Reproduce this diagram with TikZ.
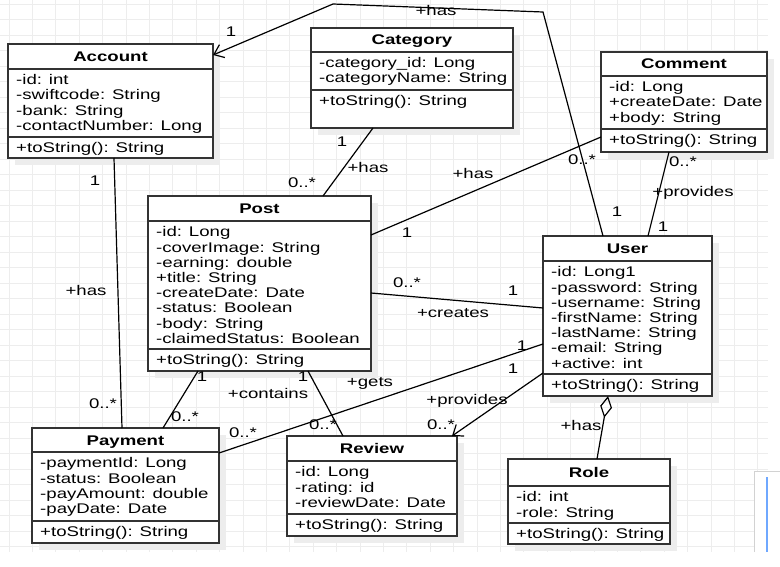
\documentclass[tikz,border=0pt]{standalone}
\usepackage{fontspec}
\setmainfont{Liberation Sans}[FakeStretch=1.33]
\usetikzlibrary{arrows.meta}
\definecolor{gridc}{HTML}{EDEDED}
\definecolor{shadowc}{HTML}{EDEDED}
\definecolor{boxc}{HTML}{333333}
\definecolor{uiblue}{HTML}{6FA8FF}
\tikzset{
  umlbox/.style={draw=boxc, line width=1.6pt, fill=white, inner sep=0pt, outer sep=0pt, anchor=north west},
  divline/.style={draw=boxc, line width=1.6pt},
  titletext/.style={font=\fontsize{14}{15.2}\selectfont\bfseries, anchor=base, inner sep=0pt},
  membertext/.style={font=\fontsize{14}{15.2}\selectfont, align=left, anchor=north west, inner sep=0pt},
  lbl/.style={font=\fontsize{14}{15}\selectfont, inner sep=0pt},
  conn/.style={draw=black, line width=1.2pt},
  openarrow/.style={-{Straight Barb[length=9pt,width=14pt]}},
  gridline/.style={draw=gridc, line width=0.8pt},
}
\newcommand{\umlclass}[9]{%
  \fill[shadowc] (#2+7,#3+7) rectangle (#4+7,#5+7);
  \node[umlbox, minimum width={(#4-#2)*1pt}, minimum height={(#5-#3)*1pt}] (#1) at (#2,#3) {};
  \draw[divline] (#2,#6) -- (#4,#6);
  \draw[divline] (#2,#7) -- (#4,#7);
  \node[titletext] (#1-title) at ({(#2+#4)/2},{(#3+#6)/2+5}) {#8};
  \node[membertext] (#1-attrs) at (#2+8,#6+5.3) {\rule{0pt}{10.3pt}#9};
  \node[membertext] (#1-ops) at (#2+8,#7+5.3) {\rule{0pt}{10.3pt}+toString(): String};
}
\begin{document}
\begin{tikzpicture}[x=1pt,y=-1pt]
\useasboundingbox (0,0) rectangle (780,567);
\fill[white] (0,0) rectangle (780,567);
% grid
\begin{scope}
  \clip (0,0) rectangle (768,552);
  \foreach \i in {0,...,33} \draw[gridline] ({9+23.4*\i},0) -- ({9+23.4*\i},552);
  \foreach \j in {0,...,36} \draw[gridline] (0,{4+15.5*\j}) -- (768,{4+15.5*\j});
\end{scope}
% UI artifact bottom right
\fill[white] (754,471) rectangle (780,552);
\draw[gray!35, line width=1pt] (754,552) -- (754,471) -- (780,471);
\draw[uiblue, line width=1.5pt] (767,477) -- (767,552);

% classes
\umlclass{account}{8}{44}{213}{158}{69}{137}{Account}{-id: int\\-swiftcode: String\\-bank: String\\-contactNumber: Long}
\umlclass{category}{311}{28}{513}{128}{52}{90}{Category}{-category\_id: Long\\-categoryName: String}
\umlclass{comment}{601}{52}{767}{152}{76}{129}{Comment}{-id: Long\\+createDate: Date\\+body: String}
\umlclass{post}{148}{196}{371}{371}{221}{349}{Post}{-id: Long\\-coverImage: String\\-earning: double\\+title: String\\-createDate: Date\\-status: Boolean\\-body: String\\-claimedStatus: Boolean}
\umlclass{user}{543}{236}{712}{396}{261}{374}{User}{-id: Long1\\-password: String\\-username: String\\-firstName: String\\-lastName: String\\-email: String\\+active: int}
\umlclass{payment}{32}{428}{219}{543}{452}{521}{Payment}{-paymentId: Long\\-status: Boolean\\-payAmount: double\\-payDate: Date}
\umlclass{review}{287}{436}{457}{536}{461}{514}{Review}{-id: Long\\-rating: id\\-reviewDate: Date}
\umlclass{role}{508}{459}{670}{544}{486}{523}{Role}{-id: int\\-role: String}

% connectors
\coordinate (bendA) at (543,12);
\coordinate (bendB) at (333,4);
\draw[conn, openarrow] ([xshift=60pt]user.north west) -- (bendA) -- (bendB) -- ([yshift=-11pt]account.north east);
\draw[conn] ([xshift=62pt]category.south west) -- ([xshift=175pt]post.north west);
\draw[conn] ([yshift=-85pt]comment.north west) -- ([yshift=-39pt]post.north east);
\draw[conn] ([xshift=68pt]comment.south west) -- ([xshift=105pt]user.north west);
\draw[conn] ([yshift=-97pt]post.north east) -- ([yshift=-72pt]user.north west);
\draw[conn] ([xshift=106pt]account.south west) -- ([xshift=90pt]payment.north west);
\draw[conn] ([xshift=50pt]post.south west) -- ([xshift=131pt]payment.north west);
\draw[conn] ([xshift=160pt]post.south west) -- ([xshift=56pt]review.north west);
\draw[conn] ([yshift=-108pt]user.north west) -- ([yshift=-25pt]payment.north east);
\draw[conn, openarrow] ([yshift=-137pt]user.north west) -- ([xshift=-5pt]review.north east);
\draw[conn, {Diamond[open,length=22pt,width=12pt]}-] ([xshift=65pt]user.south west) -- ([xshift=89pt]role.north west);

% labels
\node[lbl] (l1) at (231,32) {1};
\node[lbl] (l2) at (436,10) {+has};
\node[lbl] (l3) at (582,160) {0..*};
\node[lbl] (l4) at (617,212) {1};
\node[lbl] (l5) at (342,142) {1};
\node[lbl] (l6) at (368,167) {+has};
\node[lbl] (l7) at (302,183) {0..*};
\node[lbl] (l8) at (473,173) {+has};
\node[lbl] (l9) at (407,233) {1};
\node[lbl] (l10) at (683,162) {0..*};
\node[lbl] (l11) at (693,193) {+provides};
\node[lbl] (l12) at (663,227) {1};
\node[lbl] (l13) at (407,283) {0..*};
\node[lbl] (l14) at (513,291) {1};
\node[lbl] (l15) at (453,313) {+creates};
\node[lbl] (l16) at (95,181) {1};
\node[lbl] (l17) at (86,290) {+has};
\node[lbl] (l18) at (103,404) {0..*};
\node[lbl] (l19) at (202,377) {1};
\node[lbl] (l20) at (185,417) {0..*};
\node[lbl] (l21) at (268,393) {+contains};
\node[lbl] (l22) at (303,377) {1};
\node[lbl] (l23) at (323,425) {0..*};
\node[lbl] (l24) at (522,346) {1};
\node[lbl] (l25) at (370,383) {+gets};
\node[lbl] (l26) at (243,433) {0..*};
\node[lbl] (l27) at (513,369) {1};
\node[lbl] (l28) at (467,401) {+provides};
\node[lbl] (l29) at (441,425) {0..*};
\node[lbl] (l30) at (581,425) {+has};
\end{tikzpicture}
\end{document}
